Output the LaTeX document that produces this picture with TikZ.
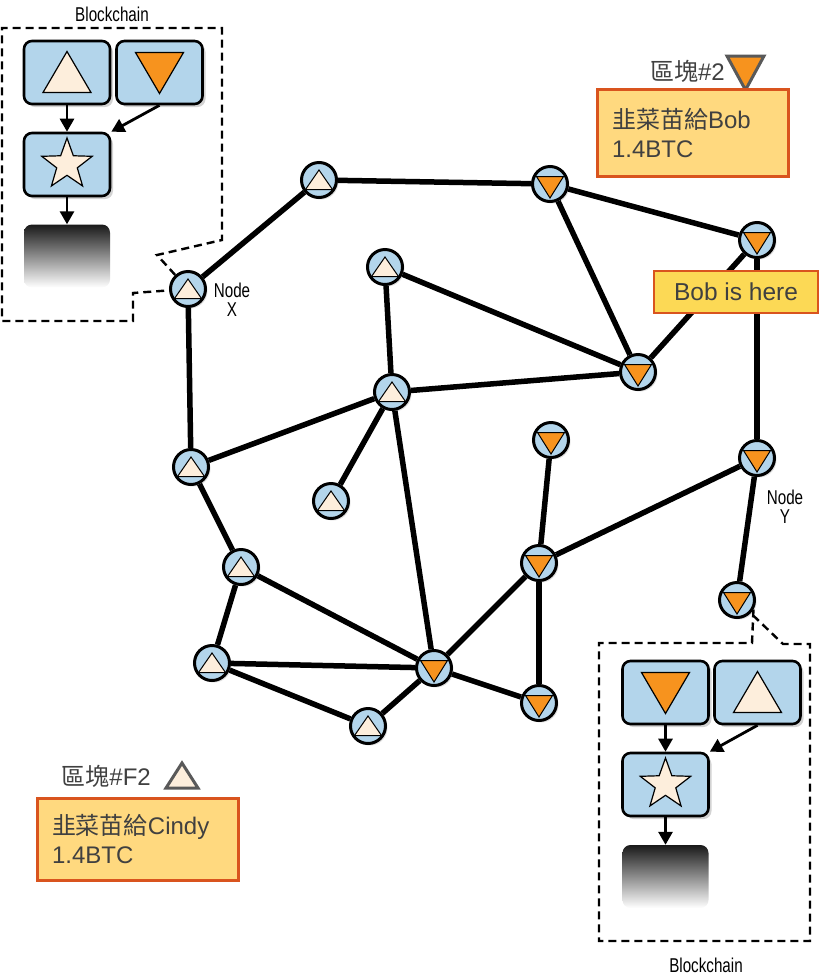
\documentclass[tikz,border=0pt]{standalone}
\usepackage{fontspec}
\setmainfont{Liberation Sans}
\newfontfamily\cjk{Noto Sans CJK TC}
\newfontfamily\narrow[FakeStretch=0.76]{Liberation Sans}
\usetikzlibrary{arrows.meta, shapes.geometric, shadows}

\definecolor{nodeblue}{HTML}{B3D5EB}
\definecolor{cream}{HTML}{FDEEDC}
\definecolor{tangerine}{HTML}{F7931E}
\definecolor{notefill}{HTML}{FFD97F}
\definecolor{noteline}{HTML}{D9541E}
\definecolor{herefill}{HTML}{FCD955}
\definecolor{inkgray}{HTML}{404040}

\tikzset{
  peer/.style={circle, draw, line width=3pt, fill=nodeblue, minimum size=35pt, inner sep=0pt,
    drop shadow={shadow xshift=2pt, shadow yshift=-2pt, opacity=0.25}},
  wpeer/.style={peer, path picture={
    \draw[sharp corners, fill=cream, line width=1pt, line join=miter]
      ([shift={(-13.5,9.5)}]path picture bounding box.center)
      -- ([shift={(13.5,9.5)}]path picture bounding box.center)
      -- ([shift={(0,-10)}]path picture bounding box.center) -- cycle;}},
  opeer/.style={peer, path picture={
    \draw[sharp corners, fill=tangerine, line width=1pt, line join=miter]
      ([shift={(-13.5,-7.5)}]path picture bounding box.center)
      -- ([shift={(13.5,-7.5)}]path picture bounding box.center)
      -- ([shift={(0,14)}]path picture bounding box.center) -- cycle;}},
  link/.style={line width=5.5pt},
  block/.style={draw, line width=2.6pt, rounded corners=8pt, fill=nodeblue,
    minimum width=86pt, minimum height=63pt, inner sep=0pt,
    drop shadow={shadow xshift=3pt, shadow yshift=-3pt, opacity=0.35}},
  wblock/.style={block, path picture={
    \draw[sharp corners, fill=cream, line width=1.2pt, line join=miter]
      ([shift={(-24,20)}]path picture bounding box.center)
      -- ([shift={(24,20)}]path picture bounding box.center)
      -- ([shift={(0,-21)}]path picture bounding box.center) -- cycle;}},
  oblock/.style={block, path picture={
    \draw[sharp corners, fill=tangerine, line width=1.2pt, line join=miter]
      ([shift={(-24,-20)}]path picture bounding box.center)
      -- ([shift={(24,-20)}]path picture bounding box.center)
      -- ([shift={(0,21)}]path picture bounding box.center) -- cycle;}},
  starmark/.style={star, star points=5, star point ratio=2.45, minimum size=53pt,
    inner sep=0pt, draw, line width=1.2pt, fill=cream},
  chain/.style={rounded corners=8pt, minimum width=86pt, minimum height=63pt,
    top color=black!90, bottom color=white},
  flow/.style={-{Triangle[length=13pt,width=14pt]}, line width=2.8pt},
  fence/.style={line width=2.4pt, dash pattern=on 8pt off 5pt},
  note/.style={draw=noteline, line width=3pt, fill=notefill, text=inkgray, align=left,
    inner xsep=15pt, font=\fontsize{24}{29}\selectfont},
  marktri/.style={draw=black!65, line width=3pt, line join=miter},
  tag/.style={font=\narrow\fontsize{20}{19}\selectfont, align=center, inner sep=0pt}
}

\begin{document}
\begin{tikzpicture}[x=1pt, y=-1pt]
  \useasboundingbox (0,0) rectangle (820,978);

  % peers
  \node[wpeer] (a) at (319,180) {};
  \node[opeer] (b) at (550,184) {};
  \node[opeer] (c) at (757,240) {};
  \node[wpeer] (X) at (188,289) {};
  \node[wpeer] (d) at (385,267) {};
  \node[opeer] (e) at (638,372) {};
  \node[wpeer] (f) at (392,392) {};
  \node[wpeer] (g) at (191,467) {};
  \node[opeer] (h) at (551,440) {};
  \node[opeer] (Y) at (757,458) {};
  \node[wpeer] (i) at (331,501) {};
  \node[wpeer] (j) at (241,567) {};
  \node[opeer] (k) at (539,563) {};
  \node[opeer] (l) at (737,600) {};
  \node[wpeer] (m) at (212,663) {};
  \node[opeer] (n) at (434,668) {};
  \node[opeer] (o) at (539,703) {};
  \node[wpeer] (p) at (368,726) {};

  \node[tag] (Xtag) at (232,300) {Node\\X};
  \node[tag] (Ytag) at (785,507) {Node\\Y};

  % links
  \draw[link] (a) -- (b);
  \draw[link] (b) -- (c);
  \draw[link] (a) -- (X);
  \draw[link] (b) -- (e);
  \draw[link] (c) -- (e);
  \draw[link] (c) -- (Y);
  \draw[link] (X) -- (g);
  \draw[link] (d) -- (e);
  \draw[link] (d) -- (f);
  \draw[link] (f) -- (e);
  \draw[link] (f) -- (g);
  \draw[link] (f) -- (i);
  \draw[link] (f) -- (n);
  \draw[link] (g) -- (j);
  \draw[link] (j) -- (m);
  \draw[link] (j) -- (n);
  \draw[link] (m) -- (n);
  \draw[link] (m) -- (p);
  \draw[link] (p) -- (n);
  \draw[link] (n) -- (k);
  \draw[link] (n) -- (o);
  \draw[link] (k) -- (o);
  \draw[link] (h) -- (k);
  \draw[link] (k) -- (Y);
  \draw[link] (Y) -- (l);

  \node[draw=noteline, line width=2.5pt, fill=herefill, text=inkgray,
    minimum width=164pt, minimum height=42pt, font=\fontsize{24.5}{29}\selectfont] (here) at (736,292) {Bob is here};

  % blockchain of node X
  \draw[fence] (X) -- (157,255) -- (222,240) -- (222,28) -- (2,28) -- (2,321)
    -- (133,321) -- (133,293) -- (X);
  \node[tag] (lcap) at (112,14) {Blockchain};
  \node[wblock] (ltri) at (67,72.5) {};
  \node[oblock] (ldown) at (159.5,72.5) {};
  \node[block] (lstar) at (67,164.5) {};
  \node[starmark] (lstarmark) at (67,164.5) {};
  \node[chain] (lchain) at (67,256) {};
  \draw[flow] (ltri) -- (lstar);
  \draw[flow] (ldown.south) -- (lstar.north east);
  \draw[flow] (lstar) -- (lchain);

  % blockchain of node Y
  \draw[fence] (l.-30) -- (752,643) -- (599,643) -- (599,941) -- (810,941)
    -- (810,644) -- (783,644) -- (l);
  \node[tag] (rcap) at (706,965) {Blockchain};
  \node[oblock] (rdown) at (665.5,692.5) {};
  \node[wblock] (rtri) at (757.5,692.5) {};
  \node[block] (rstar) at (665.5,784.5) {};
  \node[starmark] (rstarmark) at (665.5,784.5) {};
  \node[chain] (rchain) at (665.5,876.5) {};
  \draw[flow] (rdown) -- (rstar);
  \draw[flow] (rtri.south) -- (rstar.north east);
  \draw[flow] (rstar) -- (rchain);

  % block notes
  \node[anchor=east, text=inkgray, font=\fontsize{24}{29}\selectfont, inner sep=0pt] (cap2) at (725,71) {{\cjk 區塊}\#2};
  \draw[marktri, fill=tangerine] (727,56) -- (764,56) -- (745.5,90) -- cycle;
  \node[note, minimum width=191pt, minimum height=87pt, text width=161pt] (bob) at (692.5,132.5)
    {{\cjk 韭菜苗給}Bob\\1.4BTC};

  \node[anchor=east, text=inkgray, font=\fontsize{24}{29}\selectfont, inner sep=0pt] (capF2) at (151,776) {{\cjk 區塊}\#F2};
  \draw[marktri, fill=cream] (166,788) -- (198,788) -- (182,763) -- cycle;
  \node[note, minimum width=201pt, minimum height=82pt, text width=171pt] (cindy) at (137.5,839)
    {{\cjk 韭菜苗給}Cindy\\1.4BTC};
\end{tikzpicture}
\end{document}
